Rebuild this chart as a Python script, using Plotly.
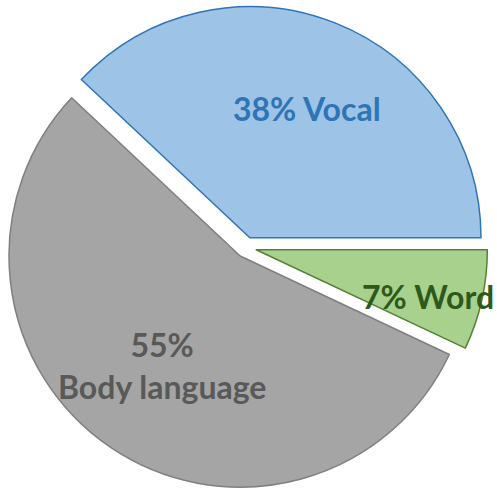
import plotly.graph_objects as go

# Share of communication by channel
labels = ["Vocal", "Word", "Body language"]
values = [38, 7, 55]

fill_colors = ["#9DC3E6", "#A9D18E", "#A5A5A5"]
edge_colors = ["#2E75B6", "#548235", "#7F7F7F"]
text_colors = ["#2E75B6", "#2D5A1B", "#595959"]

W, H = 497, 489

fig = go.Figure(
    go.Pie(
        labels=labels,
        values=values,
        sort=False,
        direction="clockwise",
        rotation=-(360 * values[0] / 100 - 90),
        pull=[0.045, 0.045, 0.045],
        marker=dict(colors=fill_colors, line=dict(color=edge_colors, width=1.5)),
        textinfo="none",
        hoverinfo="label+percent",
        showlegend=False,
        domain=dict(x=[0.0, 0.99], y=[0.0, 0.988]),
    )
)

# Label placement (paper px from top-left) for each slice
label_pos = [(307, 108), (428, 296), (162, 365)]
label_text = [
    f"{values[0]}% {labels[0]}",
    f"{values[1]}% {labels[1]}",
    f"{values[2]}%<br>{labels[2]}",
]
for (px, py), txt, col in zip(label_pos, label_text, text_colors):
    fig.add_annotation(
        x=px / W, y=1 - py / H, xref="paper", yref="paper",
        text=txt, showarrow=False, align="center",
        font=dict(family="Lato", size=32, color=col, weight="bold"),
        xanchor="center", yanchor="middle",
    )

fig.update_layout(
    width=W, height=H,
    margin=dict(l=0, r=0, t=0, b=0),
    paper_bgcolor="white", plot_bgcolor="white",
)

fig.write_html("out.html")
